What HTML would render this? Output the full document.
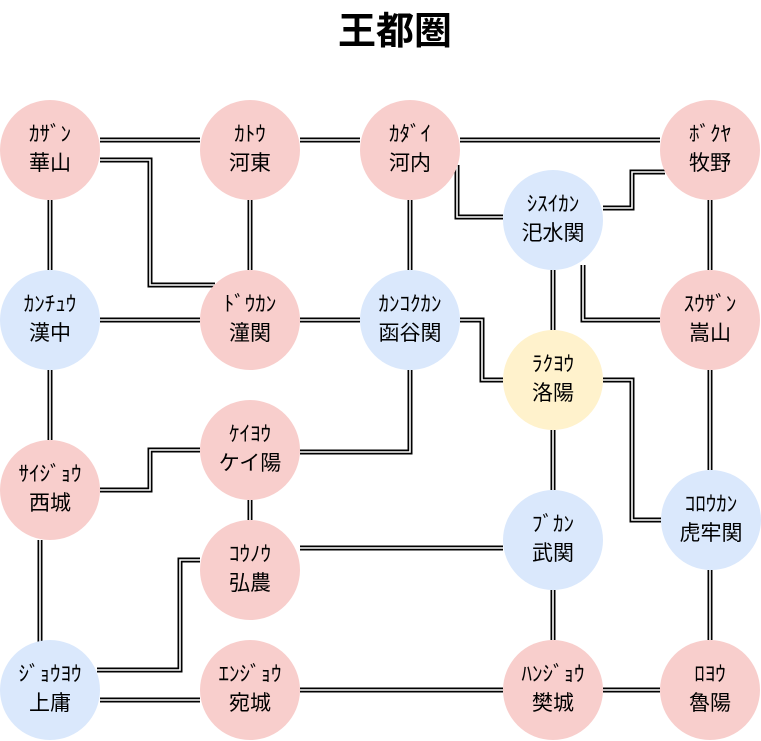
<!DOCTYPE html>
<html><head><meta charset="utf-8"><style>
body{margin:0;background:#fff;}
svg{display:block;font-family:"Liberation Sans","Noto Sans CJK JP",sans-serif;}
.k{font-size:21px;}
.n{font-size:21px;}
</style></head><body>
<svg width="761" height="741" viewBox="0 0 761 741">
<defs>
<g id="e">
<path d="M100 140H200"/>
<path d="M100 160H150V285H215"/>
<path d="M50 200V270"/>
<path d="M50 370V440"/>
<path d="M250 200V270"/>
<path d="M300 140H360"/>
<path d="M460 140H660"/>
<path d="M457 165V217H503"/>
<path d="M603 208H632V172H665"/>
<path d="M583 265V320H660"/>
<path d="M553 270V330"/>
<path d="M410 200V270"/>
<path d="M710 200V270"/>
<path d="M100 320H200"/>
<path d="M300 320H360"/>
<path d="M460 320H482V380H503"/>
<path d="M710 370V470"/>
<path d="M603 380H632V520H661"/>
<path d="M553 430V490"/>
<path d="M410 370V452H300"/>
<path d="M200 450H150V490H100"/>
<path d="M250 500V520"/>
<path d="M40 540V642"/>
<path d="M200 560H180V670H97"/>
<path d="M300 548H503"/>
<path d="M553 590V640"/>
<path d="M100 700H200"/>
<path d="M300 690H503"/>
<path d="M603 690H660"/>
<path d="M710 570V640"/>
</g>
</defs>
<text x="395" y="44" text-anchor="middle" font-size="38" font-weight="bold" font-family="'Noto Sans CJK JP',sans-serif">王都圏</text>
<use href="#e" fill="none" stroke="#000" stroke-width="5"/>
<use href="#e" fill="none" stroke="#fff" stroke-width="1.6"/>
<g stroke="none">
<circle cx="50" cy="150" r="50" fill="#f8cecc"/>
<circle cx="250" cy="150" r="50" fill="#f8cecc"/>
<circle cx="410" cy="150" r="50" fill="#f8cecc"/>
<circle cx="710" cy="150" r="50" fill="#f8cecc"/>
<circle cx="553" cy="220" r="50" fill="#dae8fc"/>
<circle cx="50" cy="320" r="50" fill="#dae8fc"/>
<circle cx="250" cy="320" r="50" fill="#f8cecc"/>
<circle cx="410" cy="320" r="50" fill="#dae8fc"/>
<circle cx="710" cy="320" r="50" fill="#f8cecc"/>
<circle cx="553" cy="380" r="50" fill="#fff2cc"/>
<circle cx="50" cy="490" r="50" fill="#f8cecc"/>
<circle cx="250" cy="450" r="50" fill="#f8cecc"/>
<circle cx="711" cy="520" r="50" fill="#dae8fc"/>
<circle cx="553" cy="540" r="50" fill="#dae8fc"/>
<circle cx="250" cy="570" r="50" fill="#f8cecc"/>
<circle cx="50" cy="690" r="50" fill="#dae8fc"/>
<circle cx="250" cy="690" r="50" fill="#f8cecc"/>
<circle cx="553" cy="690" r="50" fill="#f8cecc"/>
<circle cx="710" cy="690" r="50" fill="#f8cecc"/>
</g>
<g text-anchor="middle" fill="#000">
<text class="k" x="50" y="141">ｶｻﾞﾝ</text><text class="n" x="50" y="170">華山</text>
<text class="k" x="250" y="141">ｶﾄｳ</text><text class="n" x="250" y="170">河東</text>
<text class="k" x="410" y="141">ｶﾀﾞｲ</text><text class="n" x="410" y="170">河内</text>
<text class="k" x="710" y="141">ﾎﾞｸﾔ</text><text class="n" x="710" y="170">牧野</text>
<text class="k" x="553" y="211">ｼｽｲｶﾝ</text><text class="n" x="553" y="240">汜水関</text>
<text class="k" x="50" y="311">ｶﾝﾁｭｳ</text><text class="n" x="50" y="340">漢中</text>
<text class="k" x="250" y="311">ﾄﾞｳｶﾝ</text><text class="n" x="250" y="340">潼関</text>
<text class="k" x="410" y="311">ｶﾝｺｸｶﾝ</text><text class="n" x="410" y="340">函谷関</text>
<text class="k" x="710" y="311">ｽｳｻﾞﾝ</text><text class="n" x="710" y="340">嵩山</text>
<text class="k" x="553" y="371">ﾗｸﾖｳ</text><text class="n" x="553" y="400">洛陽</text>
<text class="k" x="50" y="481">ｻｲｼﾞｮｳ</text><text class="n" x="50" y="510">西城</text>
<text class="k" x="250" y="441">ｹｲﾖｳ</text><text class="n" x="250" y="470">ケイ陽</text>
<text class="k" x="711" y="511">ｺﾛｳｶﾝ</text><text class="n" x="711" y="540">虎牢関</text>
<text class="k" x="553" y="531">ﾌﾞｶﾝ</text><text class="n" x="553" y="560">武関</text>
<text class="k" x="250" y="561">ｺｳﾉｳ</text><text class="n" x="250" y="590">弘農</text>
<text class="k" x="50" y="681">ｼﾞｮｳﾖｳ</text><text class="n" x="50" y="710">上庸</text>
<text class="k" x="250" y="681">ｴﾝｼﾞｮｳ</text><text class="n" x="250" y="710">宛城</text>
<text class="k" x="553" y="681">ﾊﾝｼﾞｮｳ</text><text class="n" x="553" y="710">樊城</text>
<text class="k" x="710" y="681">ﾛﾖｳ</text><text class="n" x="710" y="710">魯陽</text>
</g>
</svg>
</body></html>
